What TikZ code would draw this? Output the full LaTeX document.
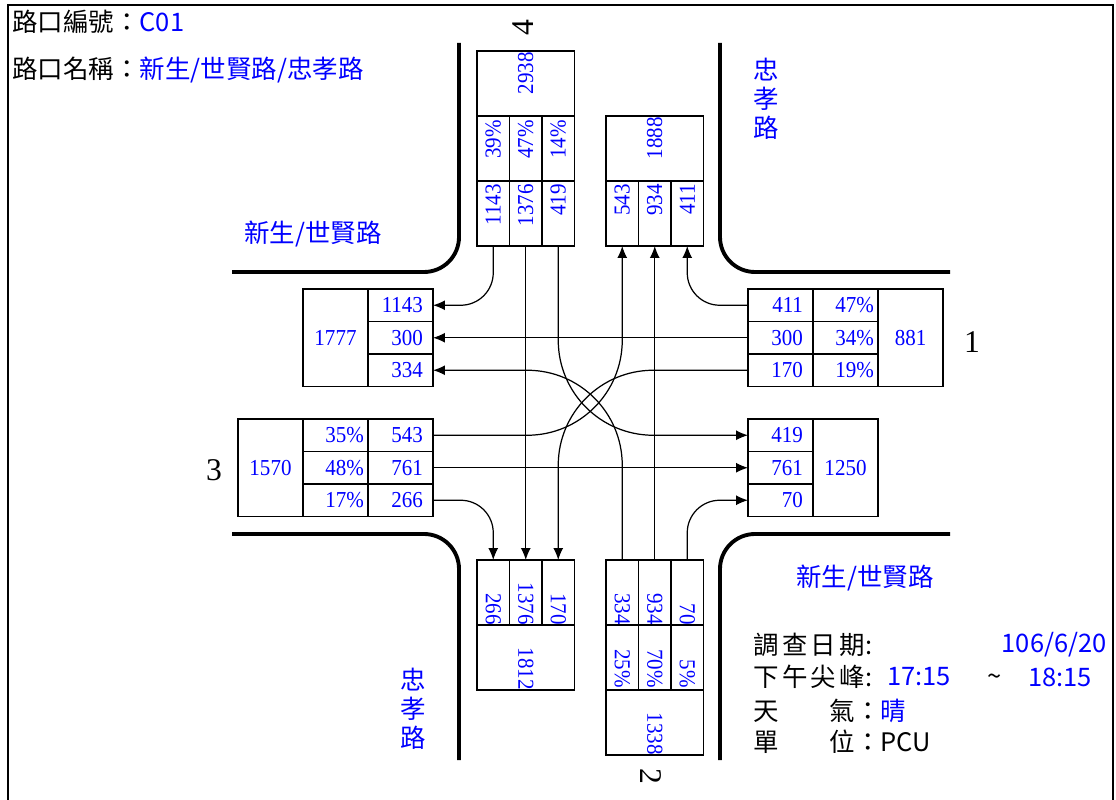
\documentclass[tikz,border=0pt]{standalone}
\usepackage{fontspec}
\setmainfont{Liberation Serif}
\newfontfamily\numfamily[FakeStretch=0.92]{Liberation Serif}
\newfontfamily\cjkfont{Noto Sans CJK TC}
\usetikzlibrary{arrows.meta}
\newcommand{\numfont}{\numfamily\fontsize{13}{14}\selectfont}
\newcommand{\cjksize}{\cjkfont\fontsize{14.5}{16.4}\selectfont}
\newcommand{\gap}{\hspace{1.9pt}}
\tikzset{
  flowarrow/.style={-{Latex[length=2.4mm, width=2mm]}, line width=0.7pt},
  curb/.style={line width=2.2pt, rounded corners=0.7cm},
  cell/.style={draw, line width=0.6pt, inner sep=0pt, outer sep=0pt, minimum width=1.3cm, minimum height=0.65cm, text width=#1, align=right, font=\numfont, text=blue},
  cell/.default=0.9cm,
  totcell/.style={cell=#1, minimum height=1.95cm, align=center},
  totcell/.default=1.3cm,
  roadname/.style={font=\cjksize, text=blue, inner sep=0pt, align=center},
  infotext/.style={font=\cjksize, inner sep=0pt, anchor=west},
  legno/.style={font=\fontsize{18}{20}\selectfont, inner sep=0pt}
}

\begin{document}
\begin{tikzpicture}[x=0.02cm, y=-0.02cm]
  \useasboundingbox (0,0) rectangle (1116,800);
  \draw[line width=1.2pt] (8,812) -- (8,5) -- (1113,5) -- (1113,812);

  % curbs
  \draw[curb] (459,43) -- (459,272) -- (232,272);
  \draw[curb] (720,43) -- (720,272) -- (950,272);
  \draw[curb] (232,534) -- (459,534) -- (459,760);
  \draw[curb] (950,534) -- (720,534) -- (720,760);

  % header
  \node[infotext] (code) at (12,22) {路口編號：\textcolor{blue}{C01}};
  \node[infotext] (iname) at (12,70) {路口名稱：\textcolor{blue}{新生/世賢路/忠孝路}};

  % road names
  \node[roadname] (rdnw) at (313,234) {新生/世賢路};
  \node[roadname] (rdse) at (865,578) {新生/世賢路};
  \node[roadname] (rdne) at (766,99) {忠\\孝\\路};
  \node[roadname] (rdsw) at (413,709) {忠\\孝\\路};

  % approach 4 (north)
  \node[totcell=1.26cm, align=right, rotate=90] (n2938) at (525.75,83.5) {2938};
  \node[cell=1.14cm, rotate=90] (n39) at (493.25,148.5) {39\%};
  \node[cell=1.14cm, rotate=90] (n47) at (525.75,148.5) {47\%};
  \node[cell=1.14cm, rotate=90] (n14) at (558.25,148.5) {14\%};
  \node[cell=1.18cm, rotate=90] (n1143) at (493.25,213.5) {1143};
  \node[cell=1.18cm, rotate=90] (n1376) at (525.75,213.5) {1376};
  \node[cell=1.18cm, rotate=90] (n419) at (558.25,213.5) {419};
  \node[totcell=1.26cm, align=right, rotate=90] (nx1888) at (654.75,148.5) {1888};
  \node[cell=1.18cm, rotate=90] (nx543) at (622.25,213.5) {543};
  \node[cell=1.18cm, rotate=90] (nx934) at (654.75,213.5) {934};
  \node[cell=1.18cm, rotate=90] (nx411) at (687.25,213.5) {411};

  % approach 2 (south)
  \node[cell=1.3cm, rotate=-90] (sx266) at (493.25,592.5) {266};
  \node[cell=1.3cm, rotate=-90] (sx1376) at (525.75,592.5) {1376};
  \node[cell=1.3cm, rotate=-90] (sx170) at (558.25,592.5) {170};
  \node[totcell=1.3cm, align=right, rotate=-90] (sx1812) at (525.75,657.5) {1812};
  \node[cell=1.3cm, rotate=-90] (s334) at (622.25,592.5) {334};
  \node[cell=1.3cm, rotate=-90] (s934) at (654.75,592.5) {934};
  \node[cell=1.3cm, rotate=-90] (s70) at (687.25,592.5) {70};
  \node[cell=1.22cm, rotate=-90] (s25) at (622.25,657.5) {25\%};
  \node[cell=1.22cm, rotate=-90] (s70p) at (654.75,657.5) {70\%};
  \node[cell=1.22cm, rotate=-90] (s5) at (687.25,657.5) {5\%};
  \node[totcell=1.3cm, align=right, rotate=-90] (s1338) at (654.75,722.5) {1338};

  % approach 3 (west)
  \node[totcell] (wx1777) at (335.5,337.75) {1777};
  \node[cell] (wx1143) at (400.5,305.25) {1143};
  \node[cell] (wx300) at (400.5,337.75) {300};
  \node[cell] (wx334) at (400.5,370.25) {334};
  \node[totcell] (w1570) at (270.5,467.75) {1570};
  \node[cell=1.14cm] (w35) at (335.5,435.25) {35\%};
  \node[cell=1.14cm] (w48) at (335.5,467.75) {48\%};
  \node[cell=1.14cm] (w17) at (335.5,500.25) {17\%};
  \node[cell] (w543) at (400.5,435.25) {543};
  \node[cell] (w761) at (400.5,467.75) {761};
  \node[cell] (w266) at (400.5,500.25) {266};

  % approach 1 (east)
  \node[cell] (e411) at (780.5,305.25) {411};
  \node[cell] (e300) at (780.5,337.75) {300};
  \node[cell] (e170) at (780.5,370.25) {170};
  \node[cell=1.14cm] (e47) at (845.5,305.25) {47\%};
  \node[cell=1.14cm] (e34) at (845.5,337.75) {34\%};
  \node[cell=1.14cm] (e19) at (845.5,370.25) {19\%};
  \node[totcell] (e881) at (910.5,337.75) {881};
  \node[cell] (ex419) at (780.5,435.25) {419};
  \node[cell] (ex761) at (780.5,467.75) {761};
  \node[cell] (ex70) at (780.5,500.25) {70};
  \node[totcell] (ex1250) at (845.5,467.75) {1250};

  % approach numbers
  \node[legno, rotate=90] (lab4) at (523,28) {4};
  \node[legno, rotate=-90] (lab2) at (651,776) {2};
  \node[legno] (lab3) at (214,470) {3};
  \node[legno] (lab1) at (972,342) {1};

  % turning flows
  \draw[flowarrow, rounded corners=0.65cm] (n1143.west) |- (wx1143.east);
  \draw[flowarrow] (n1376.west) -- (sx1376.west);
  \draw[flowarrow, rounded corners=1.9cm] (n419.west) |- (ex419.west);
  \draw[flowarrow, rounded corners=0.65cm] (e411.west) -| (nx411.west);
  \draw[flowarrow] (e300.west) -- (wx300.east);
  \draw[flowarrow, rounded corners=1.9cm] (e170.west) -| (sx170.west);
  \draw[flowarrow, rounded corners=1.9cm] (w543.east) -| (nx543.west);
  \draw[flowarrow] (w761.east) -- (ex761.west);
  \draw[flowarrow, rounded corners=0.65cm] (w266.east) -| (sx266.west);
  \draw[flowarrow, rounded corners=1.9cm] (s334.west) |- (wx334.east);
  \draw[flowarrow] (s934.west) -- (nx934.west);
  \draw[flowarrow, rounded corners=0.65cm] (s70.west) |- (ex70.west);

  % survey info
  \node[infotext] (date) at (753,645) {調\gap{}查\gap{}日\gap{}期:};
  \node[infotext, anchor=east, text=blue] (dateval) at (1107,645) {106/6/20};
  \node[infotext] (peak) at (753,677) {下\gap{}午\gap{}尖\gap{}峰:};
  \node[infotext, text=blue] (tfrom) at (887,677) {17:15};
  \node[infotext] (tsep) at (987,680) {\textasciitilde};
  \node[infotext, text=blue] (tto) at (1028,677) {18:15};
  \node[infotext] (wthr) at (753,711) {天\hspace{28.9pt}氣：\textcolor{blue}{晴}};
  \node[infotext] (unit) at (753,742) {單\hspace{28.9pt}位：PCU};
\end{tikzpicture}
\end{document}
